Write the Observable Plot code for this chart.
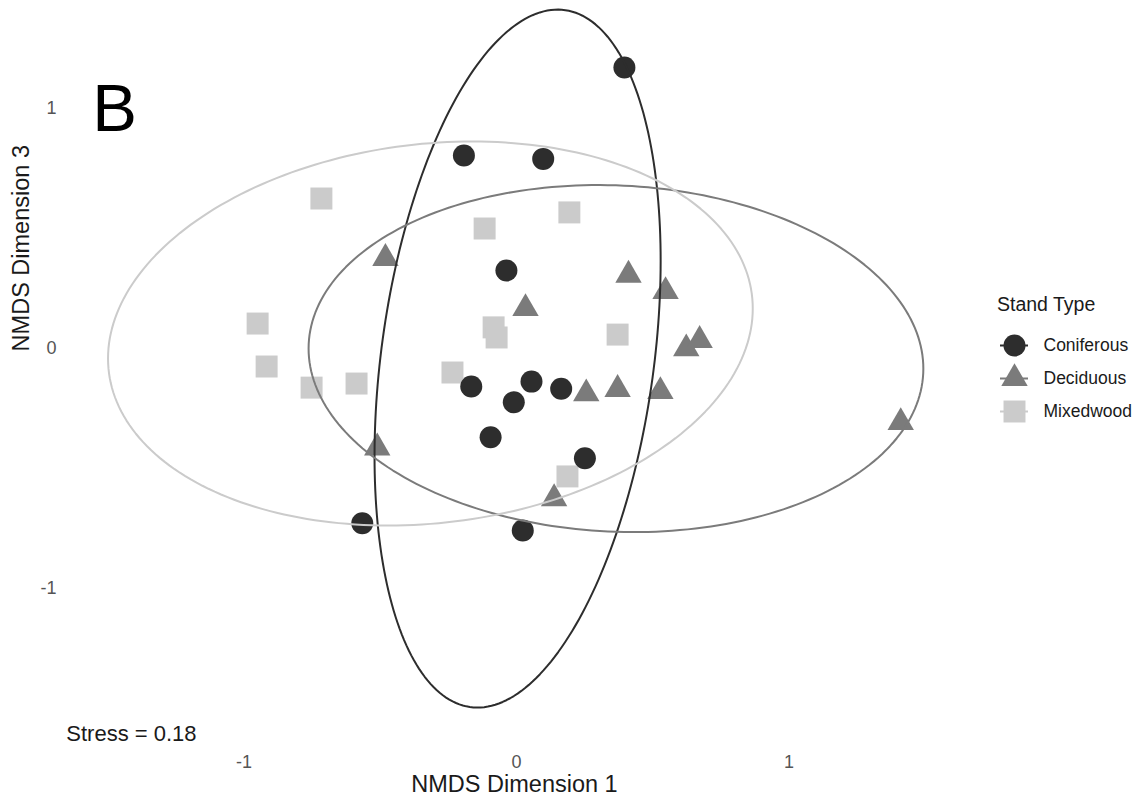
<!DOCTYPE html>
<html>
<head>
<meta charset="utf-8">
<script src="https://cdn.jsdelivr.net/npm/d3@7"></script>
<script src="https://cdn.jsdelivr.net/npm/@observablehq/plot@0.6"></script>
<style>
  html, body { margin: 0; padding: 0; background: #fff; }
  body { width: 1144px; height: 807px; position: relative; overflow: hidden; font-family: "Liberation Sans", Arial, sans-serif; }
  #chart { position: absolute; left: 0; top: 0; }
  #legend { position: absolute; left: 990px; top: 320px; }
  #legendTitle { position: absolute; left: 997px; top: 292px; font-size: 19.5px; color: #1a1a1a; line-height: 24px; }
</style>
</head>
<body>
<div id="chart"></div>
<div id="legendTitle">Stand Type</div>
<div id="legend"></div>
<script>
// ---- categories & styling ----
const categories = ["Coniferous", "Deciduous", "Mixedwood"];
const colors = ["#2d2d2d", "#7b7b7b", "#cbcbcb"];
const symbols = ["circle", "triangle", "square"];
const pointRadius = [11, 9.8, 12.4];

// ---- NMDS scores (Dimension 1, Dimension 3) ----
const coniferousX = [0.396, -0.193, 0.098, -0.037, -0.166, 0.055, 0.164, -0.010, -0.095, 0.251, -0.566, 0.023];
const coniferousY = [1.171, 0.804, 0.790, 0.325, -0.158, -0.138, -0.168, -0.224, -0.370, -0.457, -0.728, -0.758];

const deciduousX = [-0.481, 0.033, 0.411, 0.547, 0.623, 0.672, 0.256, 0.371, 0.528, -0.511, 0.138, 1.410];
const deciduousY = [0.376, 0.167, 0.306, 0.238, -0.001, 0.034, -0.188, -0.170, -0.179, -0.414, -0.625, -0.308];

const mixedwoodX = [-0.716, -0.117, 0.194, -0.950, -0.917, -0.752, -0.587, -0.084, -0.073, 0.371, -0.235, 0.187];
const mixedwoodY = [0.625, 0.500, 0.567, 0.104, -0.075, -0.163, -0.146, 0.088, 0.046, 0.058, -0.100, -0.533];

// ---- 95% ellipses: centre, half-width, half-height, correlation ----
const ellipseCX = [0.004, 0.365, -0.316];
const ellipseCY = [-0.042, -0.042, 0.0625];
const ellipseSX = [0.525, 1.128, 1.183];
const ellipseSY = [1.454, 0.723, 0.800];
const ellipseR  = [0.280, -0.058, 0.130];

// ---- axis ticks & annotation ----
const xTicks = [-1, 0, 1];
const yTicks = [-1, 0, 1];
const tickLabels = ["-1", "0", "1"];
const stressLabel = "Stress = 0.18";
const stressX = -1.413;
const stressY = -1.604;

// ---- build tables ----
const xsByType = [coniferousX, deciduousX, mixedwoodX];
const ysByType = [coniferousY, deciduousY, mixedwoodY];
const points = [];
categories.forEach((c, i) => {
  xsByType[i].forEach((x, j) => points.push({type: c, x, y: ysByType[i][j]}));
});

const ellipses = [];
const nSeg = 240;
categories.forEach((c, i) => {
  const rr = ellipseR[i], k = Math.sqrt(1 - rr * rr);
  for (let s = 0; s <= nSeg; s++) {
    const t = (2 * Math.PI * s) / nSeg;
    ellipses.push({
      type: c,
      x: ellipseCX[i] + ellipseSX[i] * Math.cos(t),
      y: ellipseCY[i] + ellipseSY[i] * (rr * Math.cos(t) + k * Math.sin(t))
    });
  }
});

const colorScale = {domain: categories, range: colors};
const symbolScale = {domain: categories, range: symbols};
const tickFmt = v => tickLabels[xTicks.indexOf(v)];

// draw order: squares, triangles, circles
const drawOrder = [2, 1, 0];
const dotMarks = drawOrder.map(i =>
  Plot.dot(points.filter(d => d.type === categories[i]), {
    x: "x", y: "y", fill: "type", symbol: "type", r: pointRadius[i], stroke: "none"
  })
);

const chart = Plot.plot({
  width: 1144,
  height: 807,
  marginLeft: 66,
  marginRight: 182,
  marginTop: 0,
  marginBottom: 70,
  style: {fontFamily: "Liberation Sans, Arial, sans-serif", color: "#4d4d4d", background: "transparent"},
  x: {domain: [-1.6514, 1.6367], axis: null},
  y: {domain: [-1.6208, 1.45], axis: null},
  color: colorScale,
  symbol: symbolScale,
  marks: [
    // tick labels
    Plot.text(xTicks, {x: d => d, frameAnchor: "bottom", dy: 25, text: tickFmt, fontSize: 18, fill: "#555555", lineAnchor: "middle"}),
    Plot.text(yTicks, {y: d => d, frameAnchor: "left", dx: -10, text: tickFmt, fontSize: 18, fill: "#555555", textAnchor: "end"}),
    ...dotMarks,
    Plot.line(ellipses, {x: "x", y: "y", z: "type", stroke: "type", strokeWidth: 2}),
    Plot.text([stressLabel], {x: () => stressX, y: () => stressY, text: d => d, fontSize: 22, fill: "#1a1a1a", textAnchor: "middle"}),
    Plot.text(["NMDS Dimension 1"], {frameAnchor: "bottom", text: d => d, dy: 54, fontSize: 23.5, fill: "#1a1a1a"}),
    Plot.text(["NMDS Dimension 3"], {frameAnchor: "left", y: () => -0.012, text: d => d, dx: -45, rotate: -90, fontSize: 23.5, fill: "#1a1a1a"}),
    Plot.text(["B"], {frameAnchor: "top-left", text: d => d, dx: 48, dy: 83, fontSize: 67, fill: "#000", textAnchor: "middle"})
  ]
});
document.getElementById("chart").appendChild(chart);

// ---- legend ----
const legend = Plot.plot({
  width: 154,
  height: 120,
  marginLeft: 10,
  marginRight: 116,
  marginTop: 0,
  marginBottom: 0,
  style: {fontFamily: "Liberation Sans, Arial, sans-serif", background: "transparent", overflow: "visible"},
  x: {axis: null},
  y: {type: "point", domain: categories, range: [25, 91], padding: 0, axis: null},
  color: colorScale,
  symbol: symbolScale,
  marks: [
    Plot.ruleY(categories, {y: d => d, stroke: d => d, strokeWidth: 2}),
    ...categories.map((c, i) => Plot.dot([c], {y: d => d, frameAnchor: "middle", fill: d => d, symbol: d => d, r: pointRadius[i]})),
    Plot.text(categories, {y: d => d, text: d => d, frameAnchor: "right", dx: 15, textAnchor: "start", fontSize: 17.5, fill: "#1a1a1a"})
  ]
});
document.getElementById("legend").appendChild(legend);
</script>
</body>
</html>
